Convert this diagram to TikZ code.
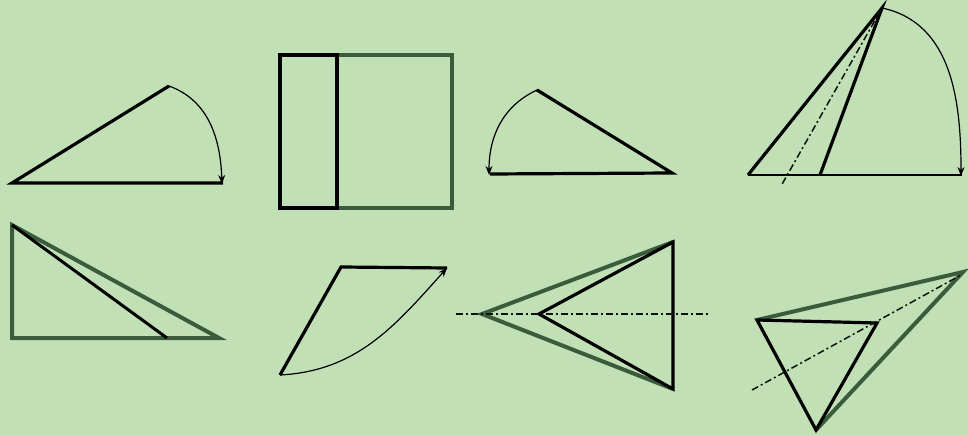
\documentclass[tikz,border=0pt]{standalone}
\usetikzlibrary{arrows.meta}
\definecolor{bg}{RGB}{194,224,181}
\definecolor{dg}{RGB}{58,92,60}
\tikzset{
  blk/.style={draw=black,line width=3.2pt,line join=miter},
  grn/.style={draw=dg,line width=4pt,line join=miter},
  arc/.style={draw=black,line width=1.2pt,-{Stealth[length=9pt,width=7pt]}},
  axis/.style={draw=black!80!dg,line width=1.5pt,dash pattern=on 7pt off 3pt on 2pt off 3pt},
}
\begin{document}
\begin{tikzpicture}[x=1pt,y=-1pt]
\fill[bg] (0,0) rectangle (968,435);
\useasboundingbox (0,0) rectangle (968,435);
% figure 1
\coordinate (a1) at (12,183);
\coordinate (b1) at (223,183);
\coordinate (c1) at (169,86);
\draw[blk] (b1) -- (a1) -- (c1);
\coordinate (e1) at (222,184);
\draw[arc] (c1) to[out=-20,in=92] (e1);
% figure 2
\coordinate (r1) at (280,55);
\coordinate (r2) at (337,208);
\coordinate (r3) at (452,208);
\draw[grn] (r1) rectangle (r3);
\draw[blk] (r1) rectangle (r2);
% figure 3
\coordinate (a3) at (490,174);
\coordinate (b3) at (672,173);
\coordinate (c3) at (537,90);
\draw[blk] (a3) -- (b3) -- (c3);
\coordinate (e3) at (489,175);
\draw[arc] (c3) to[out=205,in=90] (e3);
% figure 4
\coordinate (p4) at (882,8);
\coordinate (l4) at (748,175);
\coordinate (m4) at (820,175);
\coordinate (r4) at (962,175);
\coordinate (d4) at (781,186);
\draw[blk] (l4) -- (p4) -- (m4);
\draw[draw=black,line width=2pt] (l4) -- (r4);
\draw[axis] (p4) -- (d4);
\coordinate (e4) at (961,176);
\draw[arc] (p4) to[out=-12,in=90] (e4);
% figure 5
\coordinate (t5) at (12,225);
\coordinate (l5) at (12,338);
\coordinate (r5) at (219,338);
\coordinate (m5) at (167,338);
\draw[grn] (t5) -- (l5) -- (r5) -- cycle;
\draw[draw=black,line width=3pt] (t5) -- (m5);
% figure 6
\coordinate (a6) at (280,375);
\coordinate (b6) at (341,267);
\coordinate (c6) at (447,268);
\draw[blk] (a6) -- (b6) -- (c6);
\draw[arc] (a6) to[out=3,in=228] (c6);
% figure 7
\coordinate (g7) at (482,314);
\coordinate (t7) at (673,242);
\coordinate (u7) at (673,389);
\coordinate (k7) at (539,314);
\coordinate (h1) at (456,314);
\coordinate (h2) at (710,314);
\draw[grn] (t7) -- (g7) -- (u7);
\draw[blk] (t7) -- (k7) -- (u7) -- cycle;
\draw[axis] (h1) -- (h2);
% figure 8
\coordinate (a8) at (757,320);
\coordinate (f8) at (963,272);
\coordinate (b8) at (816,430);
\coordinate (c8) at (877,323);
\coordinate (d1) at (752,390);
\coordinate (d2) at (961,275);
\draw[grn] (a8) -- (f8) -- (b8);
\draw[blk] (a8) -- (c8) -- (b8) -- cycle;
\draw[axis] (d1) -- (d2);
\end{tikzpicture}
\end{document}
